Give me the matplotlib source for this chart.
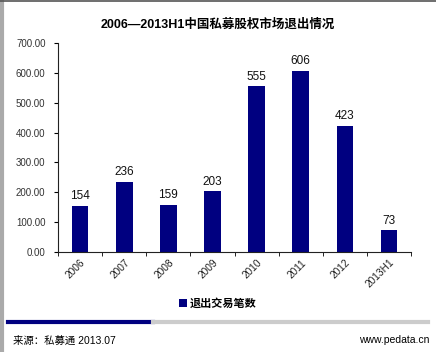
import matplotlib
matplotlib.use("Agg")
import matplotlib.pyplot as plt
from matplotlib.lines import Line2D
import numpy as np

plt.rcParams['font.family'] = ['Liberation Sans', 'Noto Sans CJK SC', 'DejaVu Sans']

years = ["2006", "2007", "2008", "2009", "2010", "2011", "2012", "2013H1"]
exits = [154, 236, 159, 203, 555, 606, 423, 73]
yticks = [0, 100, 200, 300, 400, 500, 600, 700]

fig = plt.figure(figsize=(4.36, 3.52), dpi=100)
ax = fig.add_axes([0.133, 0.284, 0.81, 0.594])

x = np.arange(len(years))
bars = ax.bar(x, exits, width=0.38, color="#000080", label="退出交易笔数")
for xi, v in zip(x, exits):
    ax.text(xi, v + 12, str(v), ha="center", va="bottom", fontsize=8.5, color="#111111")

ax.set_xlim(-0.5, len(years) - 0.5)
ax.set_ylim(0, 700)
ax.set_yticks(yticks)
ax.set_yticklabels(["%.2f" % t for t in yticks], fontsize=7, color="#333333")
ax.set_xticks(x)
ax.set_xticklabels(years, rotation=45, fontsize=7.3, color="#222222", ha="right",
                   rotation_mode="anchor")
ax.set_xticks(np.arange(len(years) + 1) - 0.5, minor=True)
ax.tick_params(axis="x", which="major", length=0, pad=4)
ax.tick_params(axis="x", which="minor", length=3, direction="out")
ax.tick_params(axis="y", length=3, direction="out", pad=6)
for s in ["top", "right"]:
    ax.spines[s].set_visible(False)
ax.spines["left"].set_color("#222222")
ax.spines["bottom"].set_color("#222222")

fig.text(0.5, 0.93, "2006—2013H1中国私募股权市场退出情况", ha="center", va="center",
         fontsize=9, fontweight="bold")

fig.legend(handles=[bars], loc="center", bbox_to_anchor=(0.5, 0.138), frameon=False,
           prop={"size": 8, "weight": "bold"}, handlelength=0.7, handleheight=0.7,
           handletextpad=0.3)

# frame and footer decorations
fig.add_artist(Line2D([0.004, 0.004], [0, 1], color="#aaaaaa", lw=3))
fig.add_artist(Line2D([0, 1], [0.997, 0.997], color="#555555", lw=1.2))
fig.add_artist(Line2D([0.018, 0.352], [0.085, 0.085], color="#000080", lw=3))
fig.add_artist(Line2D([0.352, 0.982], [0.085, 0.085], color="#cccccc", lw=3))
fig.text(0.03, 0.033, "来源：私募通 2013.07", ha="left", va="center", fontsize=7.5)
fig.text(0.985, 0.033, "www.pedata.cn", ha="right", va="center", fontsize=7.5)

fig.savefig("out.png", dpi=100)
